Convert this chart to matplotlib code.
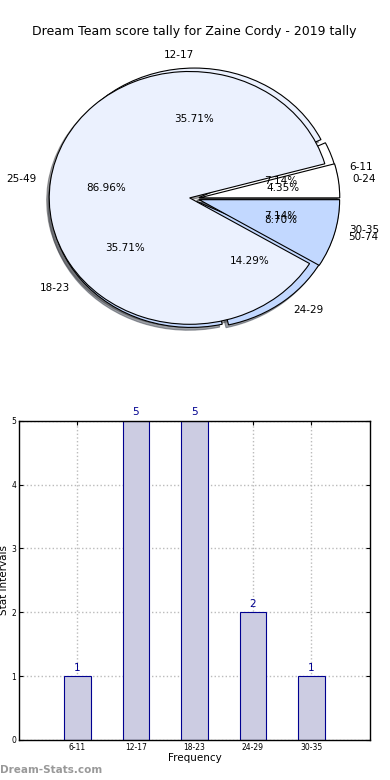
import matplotlib
matplotlib.use('Agg')
import matplotlib.pyplot as plt

# Data
title = 'Dream Team score tally for Zaine Cordy - 2019 tally'
stat_labels = ['6-11', '12-17', '18-23', '24-29', '30-35']
stat_counts = [1, 5, 5, 2, 1]
stat_colors = ['white', '#ebf1fe', '#c4d9ff', '#c2d8ff', '#c2d8ff']
range_labels = ['0-24', '25-49', '50-74']
range_counts = [1, 20, 2]
range_colors = ['white', '#ebf1fe', '#c2d8ff']

fig, (ax1, ax2) = plt.subplots(2, 1, figsize=(3.9, 7.8), dpi=100)
fig.subplots_adjust(left=0.0487, right=0.9487, bottom=0.0513, top=0.952, hspace=0.2)
ax1.set_position([19 / 390, (780 - 356.5) / 780, 351 / 390, 316 / 780])

shadow = {'ox': -0.013, 'oy': -0.016}

# Pie charts, one on top of the other
ax1.pie(stat_counts, labels=stat_labels, colors=stat_colors, autopct='%.2f%%',
        explode=[0.032] * len(stat_counts), shadow=shadow,
        wedgeprops={'edgecolor': 'black', 'linewidth': 0.8},
        textprops={'fontsize': 7.5})
ax1.pie(range_counts, labels=range_labels, colors=range_colors, autopct='%.2f%%',
        explode=[0.035] * len(range_counts), shadow=shadow,
        wedgeprops={'edgecolor': 'black', 'linewidth': 0.8},
        textprops={'fontsize': 7.5})
ax1.set_aspect('auto')
ax1.set_xlim(-1.25, 1.25)
ax1.set_ylim(-1.25, 1.25)
ax1.set_title(title, fontsize=9, pad=4)

# Bar chart
x = list(range(len(stat_labels)))
ax2.bar(x, stat_counts, width=0.45, color='#cccce2', edgecolor='#000090', linewidth=0.8, zorder=2)
for xi, v in zip(x, stat_counts):
    ax2.text(xi, v + 0.05, str(v), ha='center', va='bottom', color='#000090', fontsize=7.5)
ax2.set_xlim(-1, 5)
ax2.set_ylim(0, 5)
ax2.set_xticks(x)
ax2.set_xticklabels(stat_labels, fontsize=5.5)
ax2.set_yticks(range(6))
ax2.tick_params(axis='y', labelsize=5.5)
ax2.tick_params(direction='in', top=True, right=True, length=3, pad=2)
ax2.grid(True, linestyle=':', color='#bbbbbb', linewidth=1, zorder=0)
ax2.set_xlabel('Frequency', fontsize=7.5, labelpad=1)
ax2.set_ylabel('Stat Intervals', fontsize=7.5, labelpad=2)
for s in ax2.spines.values():
    s.set_linewidth(1)

fig.text(0.0, 0.0065, 'Dream-Stats.com', fontsize=7.5, color='#999999', fontweight='bold', ha='left', va='bottom')

plt.savefig('out.png', dpi=100)
